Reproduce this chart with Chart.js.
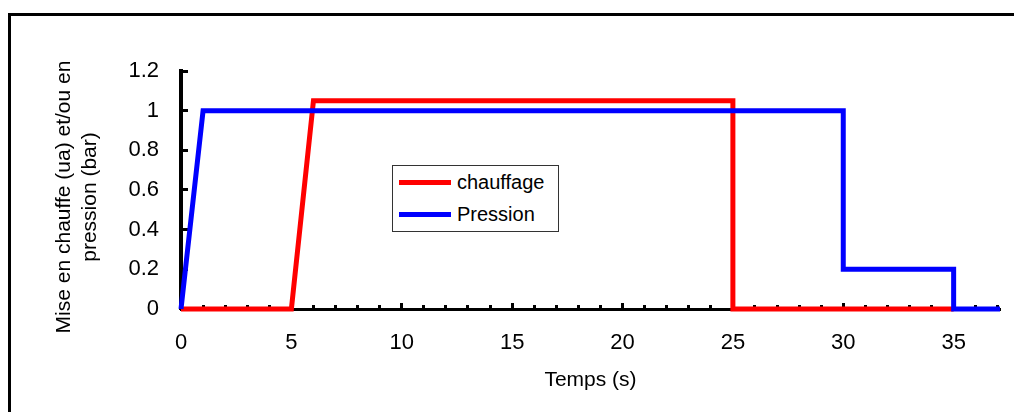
<!DOCTYPE html>
<html>
<head>
<meta charset="utf-8">
<script src="https://cdn.jsdelivr.net/npm/chart.js@4.4.1/dist/chart.umd.min.js"></script>
<style>
  html, body { margin: 0; padding: 0; background: #fff; }
  #wrap { position: relative; width: 1014px; height: 412px; overflow: hidden; }
  #frame { position: absolute; left: 8px; top: 13px; width: 1100px; height: 500px;
           border-left: 3.5px solid #000; border-top: 3px solid #000; pointer-events: none; }
  #legend { position: absolute; left: 392px; top: 165px; width: 165px; height: 65px;
            border: 1px solid #333; background: #fff;
            font-family: "Liberation Sans", Arial, sans-serif; font-size: 20px; color: #000; }
  .row { position: absolute; left: 0; height: 24px; display: flex; align-items: center; }
  .swatch { width: 52px; height: 5px; margin-left: 6px; margin-right: 6px; }
</style>
</head>
<body>
<div id="wrap">
  <canvas id="c" width="1014" height="412"></canvas>
  <div id="frame"></div>
  <div id="legend"></div>
</div>
<script>
// ---- data ----
const chauffageT = [0, 5, 6, 25, 25, 35];
const chauffageV = [0, 0, 1.05, 1.05, 0, 0];
const pressionT = [0, 1, 30, 30, 35, 35, 37.1];
const pressionV = [0, 1, 1, 0.2, 0.2, 0, 0];
const seriesNames = ["chauffage", "Pression"];
const seriesColors = ["#ff0000", "#0000ff"];
const xTitle = "Temps (s)";
const yTitleLines = ["Mise en chauffe (ua) et/ou en", "pression (bar)"];
const xMin = 0, xMax = 37.1, xStep = 5;
const yMin = 0, yMax = 1.2, yStep = 0.2;

const toPts = (xs, ys) => xs.map((x, i) => ({ x: x, y: ys[i] }));

const FONT = "'Liberation Sans', Arial, sans-serif";

const tickMarks = {
  id: 'tickMarks',
  beforeDatasetsDraw(chart) {
    const { ctx } = chart;
    const xs = chart.scales.x, ys = chart.scales.y;
    const y0 = ys.getPixelForValue(0);
    const x0 = xs.getPixelForValue(0);
    ctx.save();
    ctx.fillStyle = '#000';
    for (let v = 1; v <= Math.floor(xMax); v++) {
      const px = xs.getPixelForValue(v);
      const h = (v % 5 === 0) ? 7 : 5;
      ctx.fillRect(Math.round(px - 1.5), y0 - h + 1, 3, h);
    }
    for (let v = yMin; v <= yMax + 1e-9; v += yStep) {
      const py = ys.getPixelForValue(v);
      ctx.fillRect(x0, Math.round(py - 1.5), 7, 3);
    }
    ctx.restore();
  },
  afterDraw(chart) {
    const { ctx } = chart;
    const cy = 197;
    ctx.save();
    ctx.fillStyle = '#000';
    ctx.font = "21px " + FONT;
    ctx.textAlign = 'center';
    ctx.textBaseline = 'middle';
    const xsPos = [64, 90];
    yTitleLines.forEach((t, i) => {
      ctx.save();
      ctx.translate(xsPos[i], cy);
      ctx.rotate(-Math.PI / 2);
      ctx.fillText(t, 0, 0);
      ctx.restore();
    });
    ctx.restore();
  }
};

const chart = new Chart(document.getElementById('c'), {
  type: 'scatter',
  data: {
    datasets: [
      { label: seriesNames[0], data: toPts(chauffageT, chauffageV), showLine: true,
        borderColor: seriesColors[0], backgroundColor: seriesColors[0], borderWidth: 5,
        pointRadius: 0, tension: 0, clip: false, order: 2 },
      { label: seriesNames[1], data: toPts(pressionT, pressionV), showLine: true,
        borderColor: seriesColors[1], backgroundColor: seriesColors[1], borderWidth: 5,
        pointRadius: 0, tension: 0, clip: false, order: 1 }
    ]
  },
  options: {
    responsive: false,
    animation: false,
    devicePixelRatio: 1,
    layout: { padding: { left: 0, top: 71, right: 14, bottom: 0 } },
    plugins: { legend: { display: false }, tooltip: { enabled: false } },
    scales: {
      x: {
        type: 'linear', min: xMin, max: xMax,
        afterFit: s => { s.height = 103; },
        grid: { display: true, drawOnChartArea: false, drawTicks: false,
                color: 'rgba(0,0,0,0)' },
        border: { display: true, color: '#000', width: 3 },
        ticks: { stepSize: xStep, includeBounds: false, padding: 21, color: '#000',
                 font: { family: FONT, size: 22 } },
        title: { display: true, text: xTitle, color: '#000',
                 font: { family: FONT, size: 21 }, padding: { top: 0, bottom: 19 } }
      },
      y: {
        type: 'linear', min: yMin, max: yMax,
        afterFit: s => { s.width = 181; },
        grid: { display: true, drawOnChartArea: false, drawTicks: false,
                color: 'rgba(0,0,0,0)' },
        border: { display: true, color: '#000', width: 4 },
        ticks: { stepSize: yStep, padding: 22, color: '#000',
                 font: { family: FONT, size: 22 },
                 callback: v => String(Number(v.toFixed(1))) }
      }
    }
  },
  plugins: [tickMarks]
});

const leg = document.getElementById('legend');
chart.data.datasets.forEach((ds, i) => {
  const row = document.createElement('div');
  row.className = 'row';
  row.style.top = (4 + i * 32) + 'px';
  const sw = document.createElement('div');
  sw.className = 'swatch';
  sw.style.background = ds.borderColor;
  const tx = document.createElement('span');
  tx.textContent = ds.label;
  row.appendChild(sw); row.appendChild(tx);
  leg.appendChild(row);
});
</script>
</body>
</html>
